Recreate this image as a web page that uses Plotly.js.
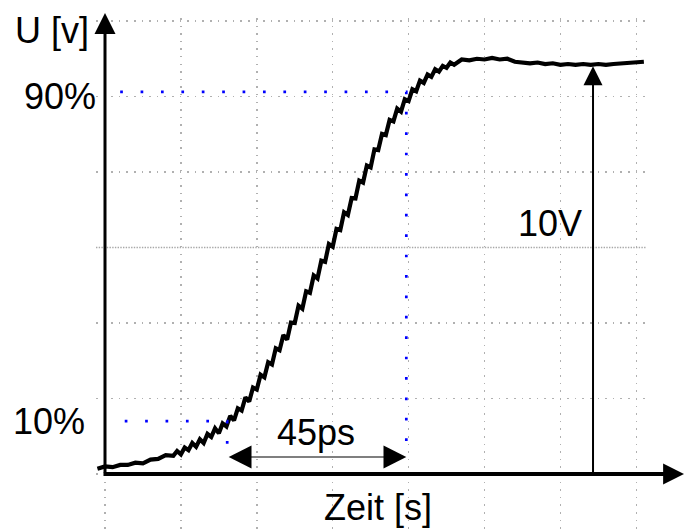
<!DOCTYPE html>
<html>
<head>
<meta charset="utf-8">
<script src="https://cdn.plot.ly/plotly-3.0.1.min.js"></script>
<style>html,body{margin:0;padding:0;background:#fff;}#chart{width:684px;height:530px;}</style>
</head>
<body>
<div id="chart"></div>
<script>
// ---- data (grid units: 1 unit = one grid division) ----
const timeX = [
  -0.10, 0.00, 0.10, 0.20, 0.30, 0.40, 0.50, 0.60, 0.70, 0.80, 0.90,
  0.95, 1.00, 1.05, 1.10, 1.15, 1.20, 1.25, 1.30, 1.35, 1.40, 1.45, 1.50,
  1.55, 1.60, 1.65, 1.70, 1.75, 1.80, 1.85, 1.90, 1.95, 2.00, 2.05, 2.10,
  2.15, 2.20, 2.25, 2.30, 2.35, 2.40, 2.45, 2.50, 2.55, 2.60, 2.65, 2.70,
  2.75, 2.80, 2.85, 2.90, 2.95, 3.00, 3.05, 3.10, 3.15, 3.20, 3.25, 3.30,
  3.35, 3.40, 3.45, 3.50, 3.55, 3.60, 3.65, 3.70, 3.75, 3.80, 3.85, 3.90,
  3.95, 4.00, 4.05, 4.10, 4.15, 4.20, 4.25, 4.30, 4.35, 4.40, 4.45, 4.50,
  4.55, 4.60, 4.70, 4.80, 4.90, 5.00, 5.10, 5.20, 5.30, 5.40, 5.50, 5.60,
  5.70, 5.80, 5.90, 6.00, 6.10, 6.20, 6.30, 6.40, 6.50, 6.60, 6.70, 6.80,
  6.90, 7.00, 7.10
];
const voltY = [
  0.07, 0.10, 0.09, 0.12, 0.12, 0.15, 0.14, 0.19, 0.20, 0.25, 0.24,
  0.305, 0.26, 0.35, 0.315, 0.41, 0.36, 0.46, 0.41, 0.53, 0.49, 0.605, 0.54,
  0.67, 0.63, 0.77, 0.71, 0.87, 0.84, 1.015, 0.96, 1.145, 1.12, 1.315, 1.28,
  1.48, 1.45, 1.665, 1.64, 1.84, 1.78, 2.005, 2.00, 2.23, 2.19, 2.42, 2.40,
  2.63, 2.59, 2.825, 2.81, 3.045, 3.01, 3.245, 3.23, 3.465, 3.43, 3.655, 3.65,
  3.885, 3.86, 4.085, 4.06, 4.30, 4.29, 4.505, 4.49, 4.69, 4.67, 4.84, 4.80,
  4.965, 4.94, 5.095, 5.07, 5.21, 5.18, 5.29, 5.26, 5.36, 5.33, 5.405, 5.38,
  5.45, 5.42, 5.49, 5.48, 5.50, 5.49, 5.51, 5.49, 5.50, 5.46, 5.45, 5.44,
  5.45, 5.43, 5.44, 5.42, 5.43, 5.42, 5.43, 5.42, 5.43, 5.42, 5.43, 5.44,
  5.44, 5.45, 5.46
];
const gridX = [0, 1, 2, 3, 4, 5, 6, 7];
const gridY = [0, 1, 2, 4, 5, 6];
const midGridY = 3;

const level10 = 0.70;      // 10 % level
const level90 = 5.06;      // 90 % level
const t10 = 1.61;          // time at 10 %
const t90 = 3.97;          // time at 90 %
const guide10Start = 0.26;
const guide90Start = 0.20;
const spanY = 0.225;       // height of the 45ps arrow
const stepTime = 6.43;     // position of the 10V arrow
const stepTop = 5.40;      // top of the 10V arrow
const xAxisEnd = 7.63;
const yAxisEnd = 6.106;

const labelUnitY = 'U [v]';
const label90 = '90%';
const label10 = '10%';
const labelRise = '45ps';
const labelAmp = '10V';
const labelTime = 'Zeit [s]';

// ---- traces ----
const curve = {
  x: timeX, y: voltY, type: 'scatter', mode: 'lines',
  line: {color: '#000', width: 4.2}, hoverinfo: 'skip', cliponaxis: false
};
const blueDash = {color: '#0000ff', width: 2.7, dash: '2.7px,17.7px'};
const guide90 = {
  x: [guide90Start, t90, t90], y: [level90, level90, spanY],
  type: 'scatter', mode: 'lines', line: blueDash, hoverinfo: 'skip'
};
const guide10 = {
  x: [guide10Start, t10, t10], y: [level10, level10, spanY],
  type: 'scatter', mode: 'lines', line: blueDash, hoverinfo: 'skip'
};

const F = {family: 'Liberation Sans, Arial, sans-serif', size: 36, color: '#000'};
const txt = (text, x, y, xref, yref) => ({
  text, x, y, xref, yref, showarrow: false, font: F,
  xanchor: 'center', yanchor: 'middle'
});
const arrow = (x, y, ax, ay, w, s, side) => ({
  x, y, ax, ay, xref: 'x', yref: 'y', axref: 'x', ayref: 'y',
  text: '', showarrow: true, arrowhead: 2, startarrowhead: 2,
  arrowwidth: w, arrowsize: s, startarrowsize: s, arrowcolor: '#000',
  arrowside: side || 'end', standoff: 0, startstandoff: 0
});

const layout = {
  width: 684, height: 530,
  margin: {l: 96, r: 38, t: 18, b: 0, pad: 0},
  paper_bgcolor: '#fff', plot_bgcolor: '#fff',
  showlegend: false,
  font: F,
  xaxis: {
    range: [-0.1186, 7.128], tickvals: gridX, showticklabels: false, ticks: '',
    showgrid: true, gridcolor: '#b0b0b0', gridwidth: 1.5, griddash: '1.5px,6.1px',
    zeroline: false, showline: false, fixedrange: true
  },
  yaxis: {
    range: [-0.7417, 6.0397], tickvals: gridY, showticklabels: false, ticks: '',
    showgrid: true, gridcolor: '#b0b0b0', gridwidth: 1.5, griddash: '1.5px,6.1px',
    zeroline: false, showline: false, fixedrange: true
  },
  shapes: [{
    type: 'line', layer: 'below', xref: 'paper', x0: 0, x1: 1,
    yref: 'y', y0: midGridY, y1: midGridY,
    line: {color: '#a8a8a8', width: 1.3, dash: '1.4px,1.3px'}
  }],
  annotations: [
    arrow(0, yAxisEnd, 0, 0, 3, 1.4),
    arrow(xAxisEnd, 0, -0.04, 0, 4, 1.05),
    arrow(stepTime, stepTop, stepTime, 0, 2, 1.9),
    arrow(t90, spanY, t10, spanY, 1.2, 3.8, 'end+start'),
    txt(labelUnitY, -0.08, 5.88, 'paper', 'y'),
    txt(label90, -0.065, level90 - 0.06, 'paper', 'y'),
    txt(label10, -0.0855, level10, 'paper', 'y'),
    txt(labelRise, 2.78, 0.556, 'x', 'y'),
    txt(labelAmp, 5.86, 3.32, 'x', 'y'),
    txt(labelTime, 3.6, -0.45, 'x', 'y')
  ]
};

Plotly.newPlot('chart', [curve, guide90, guide10], layout, {staticPlot: true, displayModeBar: false});
</script>
</body>
</html>
